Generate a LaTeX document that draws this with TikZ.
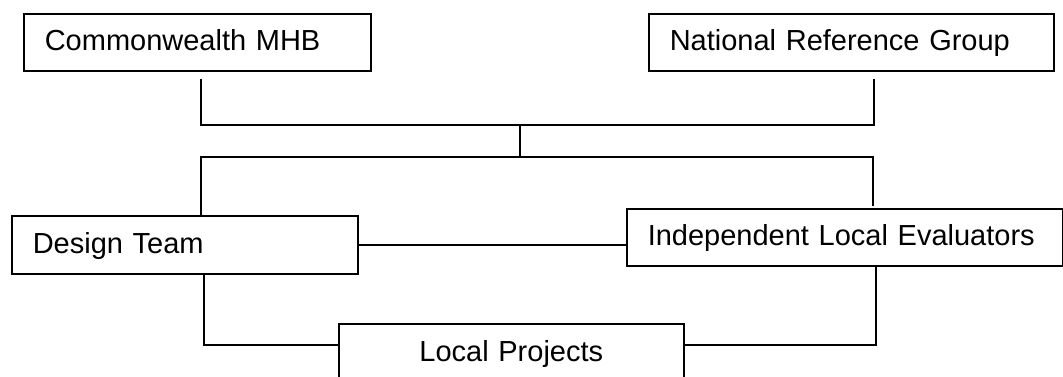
\documentclass[tikz,border=0pt]{standalone}
\usepackage{fontspec}
\setmainfont{Liberation Sans}

\begin{document}
\begin{tikzpicture}[x=1pt,y=-1pt,
    unit/.style={draw,line width=1.6pt,anchor=north west,inner xsep=21pt,
      inner ysep=0pt,minimum height=57pt,text height=21pt,text depth=4pt,
      align=left,font=\fontsize{29}{34}\selectfont},
    wire/.style={line width=1.6pt}]
    \clip (0,0) rectangle (1063,376);

    % boxes
    \node[unit,text width=305pt] (cmhb) at (23,13) {Commonwealth MHB};
    \node[unit,text width=363pt] (nrg) at (648,13) {National Reference Group};
    \node[unit,text width=304pt,minimum height=58pt] (design) at (11,215) {Design Team};
    \node[unit,text width=394pt] (evals) at (626,208) {Independent Local Evaluators};
    \node[unit,text width=303pt,align=center,minimum height=58pt] (local) at (338,323) {Local Projects};

    % junctions
    \coordinate (topbus) at (520,125);
    \coordinate (lowbus) at (520,157);

    % links
    \draw[wire,shorten <=7pt,shorten >=7pt] ([xshift=3.5pt]cmhb.south) |- (topbus)
      -| ([xshift=22.5pt]nrg.south);
    \draw[wire] (topbus) -- (lowbus);
    \draw[wire,shorten >=2pt] ([xshift=16pt]design.north) |- (lowbus)
      -| ([xshift=28pt]evals.north);
    \draw[wire] (design.east) -- (design.east -| evals.west);
    \draw[wire] ([xshift=19pt]design.south) |- ([yshift=8pt]local.west);
    \draw[wire] ([xshift=31pt]evals.south) |- ([yshift=8pt]local.east);
\end{tikzpicture}
\end{document}
